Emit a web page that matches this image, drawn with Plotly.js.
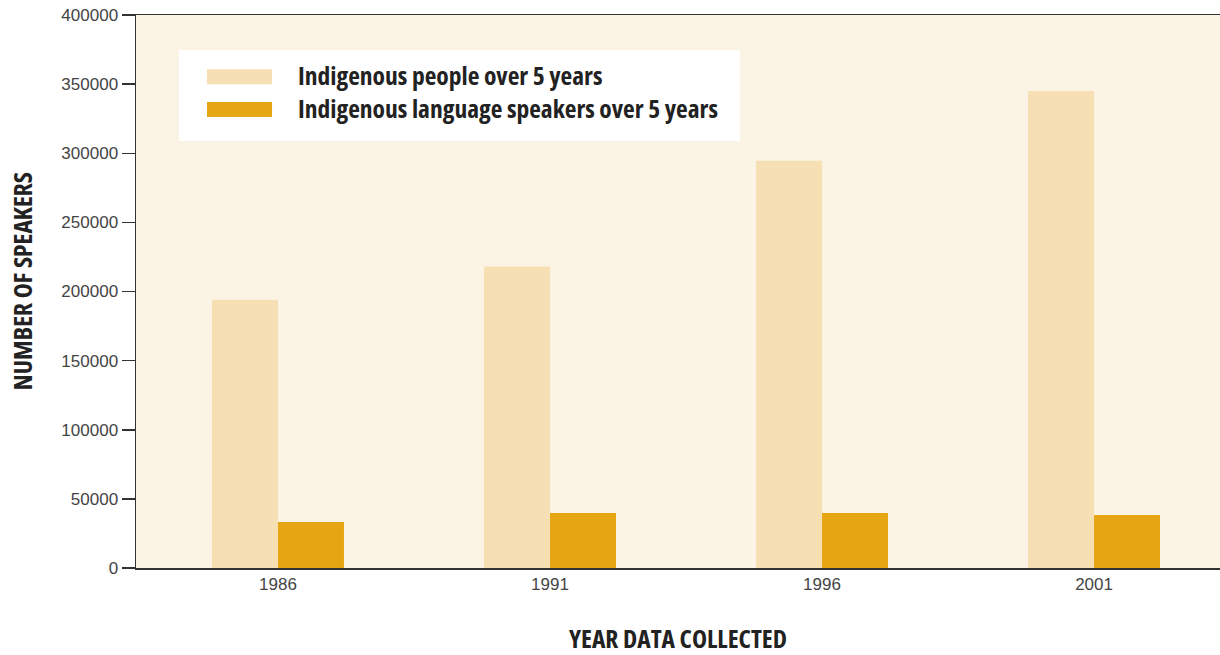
<!DOCTYPE html>
<html>
<head>
<meta charset="utf-8">
<script src="https://cdn.plot.ly/plotly-3.0.1.min.js"></script>
<style>
html,body{margin:0;padding:0;background:#fff;}
#chart{width:1220px;height:655px;}
text { font-stretch: 75%; }
</style>
</head>
<body>
<div id="chart"></div>
<script>
const years = ["1986", "1991", "1996", "2001"];
const peopleName = "Indigenous people over 5 years";
const peopleValues = [194000, 218000, 294500, 345000];
const speakersName = "Indigenous language speakers over 5 years";
const speakersValues = [33300, 39800, 39800, 38400];
const yTickValues = [0, 50000, 100000, 150000, 200000, 250000, 300000, 350000, 400000];
const xTitle = "YEAR DATA COLLECTED";
const yTitle = "NUMBER OF SPEAKERS";

const lightColor = "#F7DFB4";
const darkColor = "#E6A513";
const condFont = "'Open Sans', sans-serif";

const traces = [
  {type: "bar", name: peopleName, x: years, y: peopleValues, marker: {color: lightColor}, hoverinfo: "x+y"},
  {type: "bar", name: speakersName, x: years, y: speakersValues, marker: {color: darkColor}, hoverinfo: "x+y"}
];

const layout = {
  width: 1220, height: 655,
  margin: {l: 136, r: 0, t: 15, b: 87},
  paper_bgcolor: "#ffffff",
  plot_bgcolor: "#FBF3E4",
  barmode: "group",
  bargap: 0.515,
  bargroupgap: 0,
  showlegend: false,
  font: {family: "'Liberation Sans', Arial, sans-serif", color: "#444", size: 17},
  xaxis: {
    type: "category",
    range: [-0.522, 3.463],
    showline: true, linecolor: "#333", linewidth: 1.5, mirror: true,
    ticks: "", showgrid: false, zeroline: false,
    tickfont: {size: 17, color: "#444"},
    title: {text: xTitle, font: {family: condFont, size: 25.5, color: "#222", weight: "bold"}, standoff: 44}
  },
  yaxis: {
    range: [0, 400000],
    tickvals: yTickValues,
    ticktext: yTickValues.map(String),
    showline: true, linecolor: "#333", linewidth: 1.5,
    ticks: "outside", ticklen: 13, tickcolor: "#333", tickwidth: 1.5,
    showgrid: false, zeroline: false,
    tickfont: {size: 17, color: "#444"}
  },
  shapes: [
    {type: "rect", xref: "paper", yref: "paper", x0: 0.0397, x1: 0.557, y0: 0.772, y1: 0.9367, fillcolor: "#ffffff", line: {width: 0}, layer: "below"},
    {type: "rect", xref: "paper", yref: "paper", x0: 0.0655, x1: 0.1255, y0: 0.875, y1: 0.902, fillcolor: lightColor, line: {width: 0}},
    {type: "rect", xref: "paper", yref: "paper", x0: 0.0655, x1: 0.1255, y0: 0.8156, y1: 0.8427, fillcolor: darkColor, line: {width: 0}}
  ],
  annotations: [
    {xref: "paper", yref: "paper", x: 0.1476, y: 0.892, xanchor: "left", yanchor: "middle", showarrow: false, text: peopleName, font: {family: condFont, size: 25.5, color: "#222", weight: "bold"}},
    {xref: "paper", yref: "paper", x: 0.1476, y: 0.832, xanchor: "left", yanchor: "middle", showarrow: false, text: speakersName, font: {family: condFont, size: 25.5, color: "#222", weight: "bold"}},
    {xref: "paper", yref: "paper", x: -0.105, y: 0.519, xanchor: "center", yanchor: "middle", textangle: -90, showarrow: false, text: yTitle, font: {family: condFont, size: 25.5, color: "#222", weight: "bold"}}
  ]
};

Plotly.newPlot("chart", traces, layout, {displayModeBar: false, staticPlot: true});
</script>
</body>
</html>
